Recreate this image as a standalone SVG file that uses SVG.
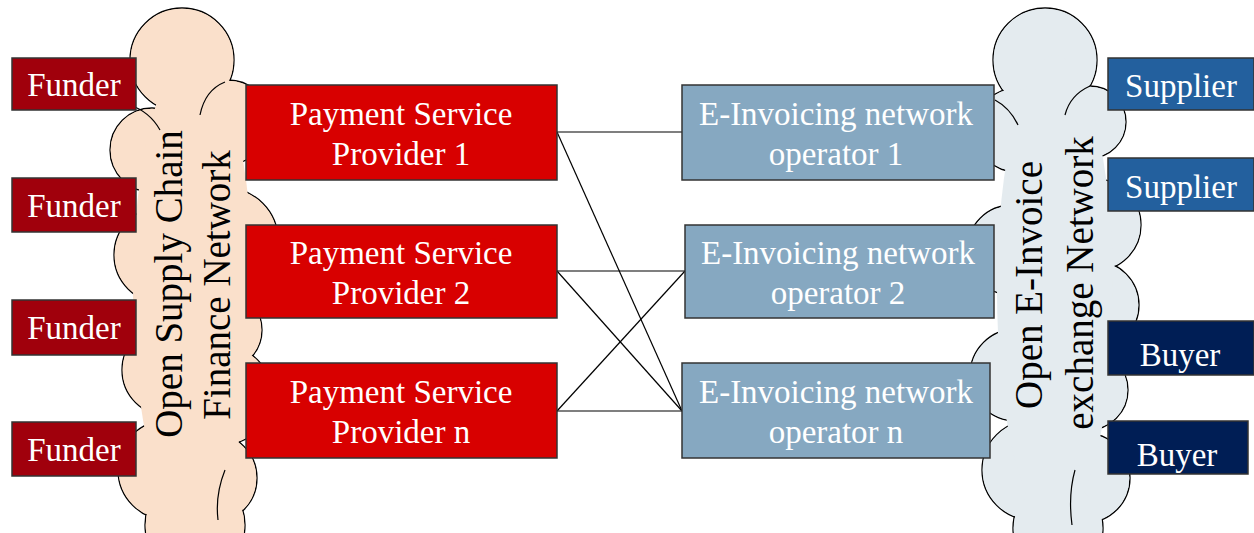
<svg xmlns="http://www.w3.org/2000/svg" width="1254" height="533" viewBox="0 0 1254 533">
<style>
.box{stroke:#333;stroke-width:1.5}
.funder{fill:#A0000C}
.psp{fill:#D80000}
.ei{fill:#86A8C1}
.sup{fill:#23609E}
.buy{fill:#001E55}
.t{font-family:"Liberation Serif","Times New Roman",serif;font-size:33px;fill:#fff;text-anchor:middle}
.ct{font-family:"Liberation Serif","Times New Roman",serif;font-size:39px;fill:#000;text-anchor:middle}
.cs{stroke:#000;stroke-width:1.3}
.arc{fill:none;stroke:#000;stroke-width:1.2}
.con{stroke:#000;stroke-width:1.2;fill:none}
</style>
<rect width="1254" height="533" fill="#fff"/>
<g id="cloud-left">
<g class="cs" fill="#FAE0CB">
<circle cx="182" cy="60" r="52"/>
<circle cx="228" cy="122" r="42"/>
<circle cx="152" cy="150" r="42"/>
<circle cx="226" cy="240" r="52"/>
<circle cx="162" cy="255" r="48"/>
<circle cx="222" cy="330" r="40"/>
<circle cx="168" cy="370" r="46"/>
<circle cx="222" cy="395" r="50"/>
<circle cx="168" cy="470" r="50"/>
<circle cx="212" cy="478" r="45"/>
<circle cx="195" cy="525" r="50"/>
</g>
<g fill="#FAE0CB">
<circle cx="182" cy="60" r="51.3"/>
<circle cx="228" cy="122" r="41.3"/>
<circle cx="152" cy="150" r="41.3"/>
<circle cx="226" cy="240" r="51.3"/>
<circle cx="162" cy="255" r="47.3"/>
<circle cx="222" cy="330" r="39.3"/>
<circle cx="168" cy="370" r="45.3"/>
<circle cx="222" cy="395" r="49.3"/>
<circle cx="168" cy="470" r="49.3"/>
<circle cx="212" cy="478" r="44.3"/>
<circle cx="195" cy="525" r="49.3"/>
<ellipse cx="193" cy="290" rx="60" ry="235"/>
</g>
<path class="arc" d="M200,115 Q205,90 225,82"/>
<path class="arc" d="M130,105 Q150,112 160,130"/>
<path class="arc" d="M225,470 Q215,495 218,520"/>
<text class="ct" transform="translate(182,284) rotate(-90)">Open Supply Chain</text>
<text class="ct" transform="translate(230,285) rotate(-90)">Finance Network</text>
</g>
<g id="cloud-right">
<g class="cs" fill="#E4EBEF">
<circle cx="1045" cy="60" r="52"/>
<circle cx="1017" cy="130" r="42"/>
<circle cx="1090" cy="122" r="36"/>
<circle cx="1012" cy="250" r="45"/>
<circle cx="1095" cy="225" r="46"/>
<circle cx="1095" cy="305" r="44"/>
<circle cx="1016" cy="375" r="46"/>
<circle cx="1088" cy="390" r="40"/>
<circle cx="1032" cy="470" r="50"/>
<circle cx="1085" cy="478" r="45"/>
<circle cx="1058" cy="528" r="45"/>
</g>
<g fill="#E4EBEF">
<circle cx="1045" cy="60" r="51.3"/>
<circle cx="1017" cy="130" r="41.3"/>
<circle cx="1090" cy="122" r="35.3"/>
<circle cx="1012" cy="250" r="44.3"/>
<circle cx="1095" cy="225" r="45.3"/>
<circle cx="1095" cy="305" r="43.3"/>
<circle cx="1016" cy="375" r="45.3"/>
<circle cx="1088" cy="390" r="39.3"/>
<circle cx="1032" cy="470" r="49.3"/>
<circle cx="1085" cy="478" r="44.3"/>
<circle cx="1058" cy="528" r="44.3"/>
<ellipse cx="1055" cy="290" rx="58" ry="235"/>
</g>
<path class="arc" d="M1065,115 Q1070,95 1090,86"/>
<path class="arc" d="M995,100 Q1010,108 1018,125"/>
<path class="arc" d="M1075,470 Q1068,495 1072,525"/>
<text class="ct" transform="translate(1042,285) rotate(-90)">Open E-Invoice</text>
<text class="ct" transform="translate(1093,283) rotate(-90)">exchange Network</text>
</g>
<g id="connectors">
<line class="con" x1="557" y1="132" x2="682" y2="132"/>
<line class="con" x1="557" y1="132" x2="682" y2="411"/>
<line class="con" x1="557" y1="271" x2="685" y2="271"/>
<line class="con" x1="557" y1="271" x2="682" y2="411"/>
<line class="con" x1="557" y1="411" x2="685" y2="271"/>
<line class="con" x1="557" y1="411" x2="682" y2="411"/>
</g>
<g id="funder1"><rect class="box funder" x="12" y="58" width="124" height="52"/><text class="t" x="74" y="96">Funder</text></g>
<g id="funder2"><rect class="box funder" x="12" y="178" width="124" height="54"/><text class="t" x="74" y="217">Funder</text></g>
<g id="funder3"><rect class="box funder" x="12" y="300" width="124" height="55"/><text class="t" x="74" y="339">Funder</text></g>
<g id="funder4"><rect class="box funder" x="12" y="422" width="124" height="54"/><text class="t" x="74" y="461">Funder</text></g>
<g id="psp1"><rect class="box psp" x="246" y="85" width="311" height="95"/><text class="t" x="401" y="125">Payment Service</text><text class="t" x="401" y="165">Provider 1</text></g>
<g id="psp2"><rect class="box psp" x="246" y="225" width="311" height="93"/><text class="t" x="401" y="264">Payment Service</text><text class="t" x="401" y="304">Provider 2</text></g>
<g id="pspn"><rect class="box psp" x="246" y="363" width="311" height="95"/><text class="t" x="401" y="403">Payment Service</text><text class="t" x="401" y="443">Provider n</text></g>
<g id="ei1"><rect class="box ei" x="682" y="85" width="312" height="95"/><text class="t" x="836" y="125">E-Invoicing network</text><text class="t" x="836" y="165">operator 1</text></g>
<g id="ei2"><rect class="box ei" x="685" y="225" width="309" height="93"/><text class="t" x="838" y="264">E-Invoicing network</text><text class="t" x="838" y="304">operator 2</text></g>
<g id="ein"><rect class="box ei" x="682" y="363" width="308" height="95"/><text class="t" x="836" y="403">E-Invoicing network</text><text class="t" x="836" y="443">operator n</text></g>
<g id="supplier1"><rect class="box sup" x="1108" y="58" width="146" height="52"/><text class="t" x="1181" y="97">Supplier</text></g>
<g id="supplier2"><rect class="box sup" x="1108" y="158" width="146" height="53"/><text class="t" x="1181" y="198">Supplier</text></g>
<g id="buyer1"><rect class="box buy" x="1108" y="321" width="146" height="54"/><text class="t" x="1180" y="366">Buyer</text></g>
<g id="buyer2"><rect class="box buy" x="1108" y="421" width="140" height="53"/><text class="t" x="1177" y="466">Buyer</text></g>
</svg>
